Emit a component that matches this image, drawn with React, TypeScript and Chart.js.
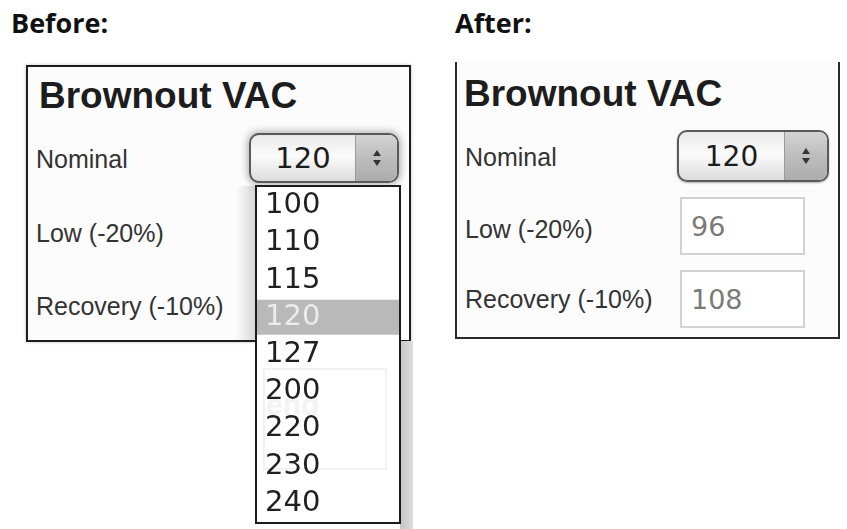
import React, { useEffect, useRef } from "react";
import { Chart, registerables } from "chart.js";

Chart.register(...registerables);

// ---- data ----
const OPTION_VALUES = ["100", "110", "115", "120", "127", "200", "220", "230", "240"];
const SELECTED_VALUE = "120";
const HIGHLIGHT = OPTION_VALUES.map((v) => (v === SELECTED_VALUE ? 1 : null));
const FIELD_LABELS = ["Nominal", "Low (-20%)", "Recovery (-10%)"];
const AFTER_VALUES = ["96", "108"];
const HEADINGS = ["Before:", "After:"];
const PANEL_TITLE = "Brownout VAC";

const LABEL_FONT = "'Liberation Sans', Arial, sans-serif";
const DIGIT_FONT = "'DejaVu Sans', sans-serif";

function OptionList() {
  const ref = useRef<HTMLCanvasElement>(null);
  useEffect(() => {
    const chart = new Chart(ref.current as HTMLCanvasElement, {
      type: "bar",
      data: {
        labels: OPTION_VALUES,
        datasets: [
          {
            data: HIGHLIGHT as any,
            backgroundColor: "#b9b9b9",
            borderWidth: 0,
            barPercentage: 1,
            categoryPercentage: 0.94,
          },
        ],
      },
      options: {
        indexAxis: "y",
        animation: false,
        responsive: true,
        maintainAspectRatio: false,
        layout: { padding: 0 },
        plugins: { legend: { display: false }, tooltip: { enabled: false } },
        scales: {
          x: { display: false, min: 0, max: 1 },
          y: {
            display: true,
            position: "left",
            grid: { display: false },
            border: { display: false },
            afterFit: (s: any) => {
              s.width = 0;
              s.paddingTop = 0;
              s.paddingBottom = 0;
              s.paddingLeft = 0;
              s.paddingRight = 0;
            },
            ticks: {
              z: 1,
              mirror: true,
              autoSkip: false,
              padding: 8,
              font: { family: "DejaVu Sans", size: 29 },
              color: (ctx: any) =>
                OPTION_VALUES[ctx.index] === SELECTED_VALUE ? "#ececec" : "#202020",
            },
          },
        },
      } as any,
    });
    return () => chart.destroy();
  }, []);
  return (
    <div style={{ position: "absolute", left: 0, top: 0, width: 142, height: 335 }}>
      <canvas ref={ref} />
    </div>
  );
}

function Arrows() {
  return (
    <div
      style={{
        display: "flex",
        flexDirection: "column",
        alignItems: "center",
        gap: 4,
      }}
    >
      <div
        style={{
          width: 0,
          height: 0,
          borderLeft: "4px solid transparent",
          borderRight: "4px solid transparent",
          borderBottom: "6px solid #333",
        }}
      />
      <div
        style={{
          width: 0,
          height: 0,
          borderLeft: "4px solid transparent",
          borderRight: "4px solid transparent",
          borderTop: "6px solid #333",
        }}
      />
    </div>
  );
}

function Select({ left, top, width, height, split, fontSize, glow }: any) {
  return (
    <div
      style={{
        position: "absolute",
        left,
        top,
        width,
        height,
        boxSizing: "border-box",
        borderRadius: 10,
        border: "2px solid #5a5a5a",
        background: "linear-gradient(#e9e9e9, #fbfbfb 45%, #dcdcdc)",
        boxShadow: glow
          ? "0 0 7px 2px rgba(0,0,0,0.28)"
          : "0 1px 2px rgba(0,0,0,0.3)",
        overflow: "hidden",
        display: "flex",
      }}
    >
      <div
        style={{
          width: split,
          display: "flex",
          alignItems: "center",
          justifyContent: "center",
          fontFamily: DIGIT_FONT,
          fontSize,
          color: "#1c1c1c",
        }}
      >
        {SELECTED_VALUE}
      </div>
      <div
        style={{
          flex: 1,
          borderLeft: "1px solid #9a9a9a",
          background: "linear-gradient(#d3d3d3, #bdbdbd 50%, #acacac)",
          display: "flex",
          alignItems: "center",
          justifyContent: "center",
        }}
      >
        <Arrows />
      </div>
    </div>
  );
}

function Label({ text, left, baseline, size = 25, color = "#333", weight = 400 }: any) {
  return (
    <div
      style={{
        position: "absolute",
        left,
        top: baseline - 0.8465 * size,
        fontFamily: LABEL_FONT,
        fontSize: size,
        fontWeight: weight,
        lineHeight: `${size}px`,
        color,
        whiteSpace: "nowrap",
      }}
    >
      {text}
    </div>
  );
}

function ValueBox({ left, top, value }: any) {
  return (
    <div
      style={{
        position: "absolute",
        left,
        top,
        width: 125,
        height: 58,
        boxSizing: "border-box",
        border: "2px solid #d2d2d2",
        background: "#fff",
        display: "flex",
        alignItems: "center",
        paddingLeft: 9,
        fontFamily: DIGIT_FONT,
        fontSize: 27,
        color: "#7a7a7a",
      }}
    >
      {value}
    </div>
  );
}

export default function App() {
  return (
    <div
      style={{
        position: "absolute",
        left: 0,
        top: 0,
        width: 847,
        height: 529,
        background: "#fff",
        overflow: "hidden",
      }}
    >
      {/* headings */}
      {HEADINGS.map((h, i) => (
        <div
          key={h}
          style={{
            position: "absolute",
            left: i === 0 ? 11 : 455,
            top: 9,
            fontFamily: "'Open Sans', sans-serif",
            fontWeight: 700,
            fontSize: 27,
            lineHeight: "27px",
            color: "#111",
          }}
        >
          {h}
        </div>
      ))}

      {/* BEFORE panel */}
      <div
        style={{
          position: "absolute",
          left: 26,
          top: 65,
          width: 385,
          height: 277,
          boxSizing: "border-box",
          border: "2px solid #1e1e1e",
          background: "#fcfcfc",
          boxShadow: "0 0 3px rgba(0,0,0,0.25)",
        }}
      />
      <Label text={PANEL_TITLE} left={39} baseline={108} size={37} color="#1d1d1d" weight={700} />
      <Label text={FIELD_LABELS[0]} left={36} baseline={168} />
      <Label text={FIELD_LABELS[1]} left={36} baseline={242} />
      <Label text={FIELD_LABELS[2]} left={36} baseline={315} />
      <Select left={249} top={133} width={150} height={50} split={104} fontSize={29} glow />

      {/* shadows around open list */}
      <div
        style={{
          position: "absolute",
          left: 236,
          top: 186,
          width: 20,
          height: 154,
          background: "linear-gradient(to right, rgba(0,0,0,0), rgba(0,0,0,0.16))",
        }}
      />
      <div
        style={{
          position: "absolute",
          left: 400,
          top: 341,
          width: 13,
          height: 188,
          background: "linear-gradient(to right, #c4c4c4, #dedede)",
        }}
      />

      {/* open option list */}
      <div
        style={{
          position: "absolute",
          left: 255,
          top: 185,
          width: 146,
          height: 339,
          boxSizing: "border-box",
          border: "2px solid #1c1c1c",
          background: "#fff",
        }}
      >
        <div
          style={{
            position: "absolute",
            left: 6,
            top: 181,
            width: 124,
            height: 102,
            boxSizing: "border-box",
            border: "2px solid #f2f2f2",
          }}
        />
        <div
          style={{
            position: "absolute",
            left: 9,
            top: 201,
            fontFamily: LABEL_FONT,
            fontWeight: 700,
            fontSize: 30,
            color: "#f3f3f3",
          }}
        >
          end
        </div>
        <OptionList />
      </div>

      {/* AFTER panel */}
      <div
        style={{
          position: "absolute",
          left: 455,
          top: 62,
          width: 385,
          height: 277,
          boxSizing: "border-box",
          borderLeft: "2px solid #2a2a2a",
          borderRight: "2px solid #2a2a2a",
          borderBottom: "2px solid #2a2a2a",
          background: "#fcfcfc",
        }}
      />
      <Label text={PANEL_TITLE} left={464} baseline={106} size={37} color="#1d1d1d" weight={700} />
      <Label text={FIELD_LABELS[0]} left={465} baseline={166} />
      <Label text={FIELD_LABELS[1]} left={465} baseline={238} />
      <Label text={FIELD_LABELS[2]} left={465} baseline={308} />
      <Select left={677} top={130} width={152} height={52} split={105} fontSize={28} />
      <ValueBox left={680} top={197} value={AFTER_VALUES[0]} />
      <ValueBox left={680} top={270} value={AFTER_VALUES[1]} />
    </div>
  );
}
